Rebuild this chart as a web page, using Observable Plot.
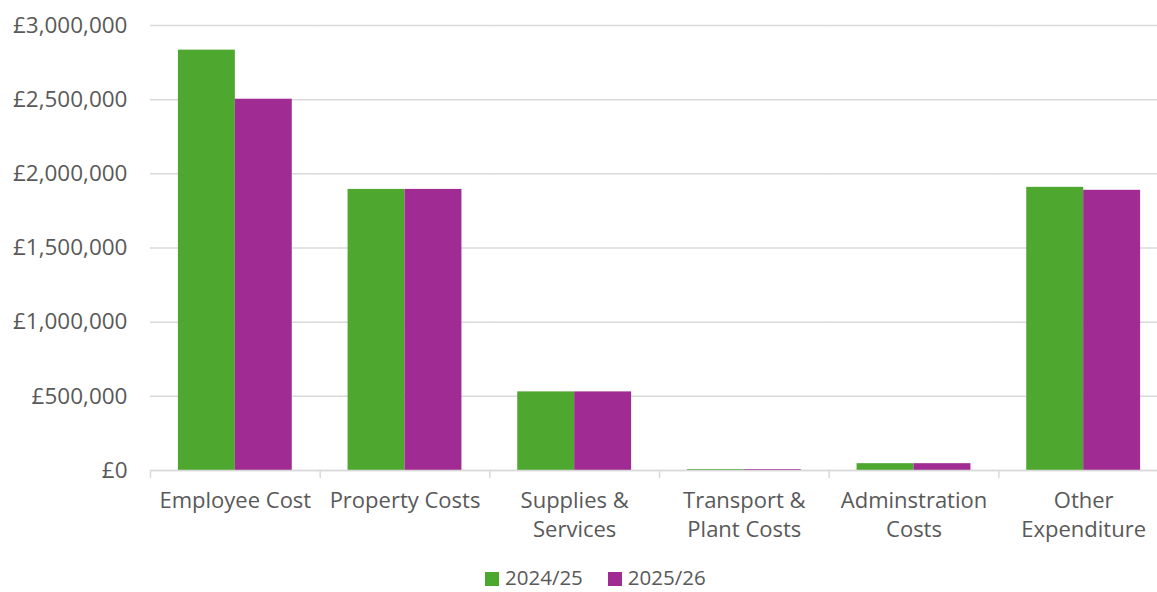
<!DOCTYPE html>
<html>
<head>
<meta charset="utf-8">
<script src="https://cdn.jsdelivr.net/npm/d3@7"></script>
<script src="https://cdn.jsdelivr.net/npm/@observablehq/plot@0.6"></script>
<style>
  html, body { margin: 0; padding: 0; background: #fff; overflow: hidden; width: 1157px; height: 592px; }
  #wrap { position: relative; width: 1157px; height: 592px; overflow: hidden; font-family: "Open Sans", sans-serif; }
  #chart svg { max-width: none !important; }
  #legend { position: absolute; left: 485px; top: 564px; display: flex; align-items: center; font-size: 20.5px; line-height: 27px; color: #595959; white-space: nowrap; }
  #legend .item { display: flex; align-items: center; margin-right: 25px; }
  #legend .sw { width: 14px; height: 14px; margin-right: 6px; margin-top: 3px; }
</style>
</head>
<body>
<div id="wrap"><div id="chart"></div><div id="legend"></div></div>
<script>
const categories = ["Employee Cost", "Property Costs", "Supplies & Services", "Transport & Plant Costs", "Adminstration Costs", "Other Expenditure"];
const categoryLabels = ["Employee Cost", "Property Costs", "Supplies &\nServices", "Transport &\nPlant Costs", "Adminstration\nCosts", "Other\nExpenditure"];
const series = ["2024/25", "2025/26"];
const values2024 = [2834000, 1895000, 530000, 6000, 46000, 1909000];
const values2025 = [2503000, 1895000, 530000, 6000, 46000, 1889000];
const seriesColors = ["#4ea72e", "#a02b93"];
const yTicks = [0, 500000, 1000000, 1500000, 2000000, 2500000, 3000000];

const data = [];
categories.forEach((c, i) => {
  data.push({category: c, series: series[0], value: values2024[i]});
  data.push({category: c, series: series[1], value: values2025[i]});
});
const labelMap = new Map(categories.map((c, i) => [c, categoryLabels[i]]));
const fmt = d3.format(",");

const chart = Plot.plot({
  width: 1168,
  height: 560,
  marginLeft: 150,
  marginRight: 0,
  marginTop: 25,
  marginBottom: 90,
  style: {fontFamily: "'Open Sans', sans-serif", fontSize: "22px", color: "#595959", overflow: "visible", background: "transparent", maxWidth: "none"},
  fx: {domain: categories, paddingInner: 0, paddingOuter: 0, round: false, label: null},
  x: {domain: series, paddingInner: 0, paddingOuter: 0.49, round: false, axis: null},
  y: {domain: [0, 3000000], label: null},
  color: {domain: series, range: seriesColors},
  marks: [
    Plot.gridY(yTicks, {stroke: "#d9d9d9", strokeOpacity: 1, strokeWidth: 1.5}),
    Plot.barY(data, {fx: "category", x: "series", y: "value", fill: "series", insetLeft: 0, insetRight: 0}),
    Plot.ruleY([0], {stroke: "#d9d9d9", strokeWidth: 1.5}),
    Plot.axisY(yTicks, {tickSize: 0, tickPadding: 23, tickFormat: d => "£" + fmt(d), fontSize: 22.5, label: null}),
    Plot.axisFx({anchor: "bottom", tickSize: 8, stroke: "#d9d9d9", strokeWidth: 1.5, tickFormat: () => " ", dx: -84.83, label: null}),
    Plot.axisFx({anchor: "bottom", tickSize: 0, tickPadding: 17, tickFormat: d => labelMap.get(d), fontSize: 22, lineHeight: 1.32, label: null})
  ]
});
document.getElementById("chart").appendChild(chart);

const legend = document.getElementById("legend");
series.forEach((s, i) => {
  const item = document.createElement("div");
  item.className = "item";
  const sw = document.createElement("div");
  sw.className = "sw";
  sw.style.background = seriesColors[i];
  const t = document.createElement("span");
  t.textContent = s;
  item.appendChild(sw);
  item.appendChild(t);
  legend.appendChild(item);
});
</script>
</body>
</html>
